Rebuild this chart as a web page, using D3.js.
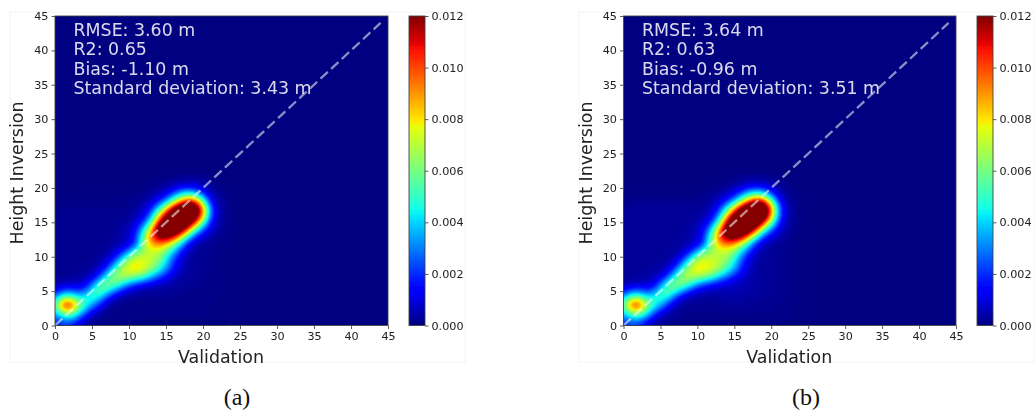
<!DOCTYPE html>
<html><head><meta charset="utf-8">
<script src="https://cdn.jsdelivr.net/npm/d3@7"></script>
<style>
html,body{margin:0;padding:0;background:#fff;overflow:hidden}
svg{display:block}
</style></head><body>
<svg id="c" width="1035" height="410" font-family="DejaVu Sans"></svg>
<script>
const axisTicks = [0,5,10,15,20,25,30,35,40,45];
const colorbarTicks = [0,0.002,0.004,0.006,0.008,0.010,0.012];
const xLabel = "Validation", yLabel = "Height Inversion";
const statsA = ["RMSE: 3.60 m","R2: 0.65","Bias: -1.10 m","Standard deviation: 3.43 m"];
const statsB = ["RMSE: 3.64 m","R2: 0.63","Bias: -0.96 m","Standard deviation: 3.51 m"];
const captionA = "(a)", captionB = "(b)";
const identityLine = [0,44];
// density, units of 1e-4; rows y=0..22, columns x=0..27
const densityA = [
[12,18,14,8,3,2,1,1,1,1,1,1,1,1,1,1,1,1,1,1,1,1,1,0,0,0,0,0],
[20,36,40,28,8,3,2,1,1,1,1,1,1,1,1,1,1,1,1,1,1,1,1,1,0,0,0,0],
[36,62,72,50,32,10,4,2,1,1,1,1,1,1,1,1,1,1,1,1,1,1,1,1,0,0,0,0],
[40,120,130,76,50,38,15,5,2,1,1,1,1,1,1,1,1,1,1,1,1,1,1,1,0,0,0,0],
[30,58,62,48,50,50,45,15,5,3,2,2,2,2,2,2,2,2,1,1,1,1,1,1,1,0,0,0],
[10,24,28,20,22,50,62,48,30,12,6,4,3,3,3,3,3,2,2,2,1,1,1,1,1,0,0,0],
[3,5,6,7,8,25,58,64,60,48,28,18,12,8,6,5,4,3,3,2,2,1,1,1,1,0,0,0],
[2,2,3,4,5,8,20,54,68,68,64,58,48,34,22,12,6,4,3,2,2,2,1,1,1,0,0,0],
[2,2,2,2,3,4,8,22,56,74,80,82,76,60,46,30,15,6,4,3,2,2,1,1,1,0,0,0],
[2,2,2,2,2,3,5,10,28,56,78,82,78,72,60,40,18,7,4,3,2,2,1,1,1,0,0,0],
[2,2,2,2,2,2,3,5,12,30,58,72,74,72,68,48,26,10,4,3,2,2,1,1,1,0,0,0],
[2,2,2,2,2,2,2,3,6,10,24,48,66,74,76,64,42,22,6,3,2,2,1,1,1,0,0,0],
[2,2,2,2,2,2,2,2,4,6,8,16,68,92,96,90,68,40,15,6,3,2,2,1,1,0,0,0],
[2,2,2,2,2,2,2,2,3,5,7,20,58,98,130,134,122,86,44,18,10,4,2,1,1,0,0,0],
[2,2,2,2,2,2,2,2,2,4,6,14,42,80,145,155,150,138,100,46,25,10,4,2,1,0,0,0],
[2,2,2,2,2,2,2,2,2,3,4,9,20,48,110,150,168,165,140,106,52,15,5,2,1,0,0,0],
[2,2,2,2,2,2,2,2,2,2,3,5,10,28,72,124,158,172,168,140,92,22,6,2,1,0,0,0],
[1,2,2,2,2,2,2,2,2,2,2,3,6,15,44,72,126,152,172,150,96,24,6,2,1,0,0,0],
[1,1,1,1,1,1,1,1,1,1,2,2,4,7,18,30,64,88,120,108,58,14,5,2,1,0,0,0],
[0,0,0,1,1,1,1,1,1,1,1,1,2,3,6,12,26,46,54,46,22,7,3,1,1,0,0,0],
[0,0,0,0,0,0,0,0,0,0,0,1,1,2,3,4,8,14,15,14,8,3,2,1,0,0,0,0],
[0,0,0,0,0,0,0,0,0,0,0,0,0,1,1,2,3,3,4,4,3,2,1,0,0,0,0,0],
[0,0,0,0,0,0,0,0,0,0,0,0,0,0,0,0,0,1,1,1,1,1,0,0,0,0,0,0]];
const densityB = [
[13,20,15,8,3,2,2,1,1,1,1,1,1,1,1,1,1,1,1,1,1,1,1,1,0,0,0,0],
[22,38,40,28,9,4,3,2,2,1,1,1,1,1,1,1,1,1,1,1,1,1,1,1,1,0,0,0],
[38,64,70,50,32,12,5,3,2,2,2,2,2,2,2,2,2,2,2,2,2,1,1,1,1,0,0,0],
[44,116,124,74,50,40,16,6,3,2,2,2,2,2,3,3,3,3,2,2,2,2,1,1,1,0,0,0],
[34,62,64,48,50,52,46,16,6,4,3,3,3,4,4,4,4,3,3,3,2,2,2,1,1,0,0,0],
[12,26,29,20,24,50,64,50,32,14,8,6,5,5,6,6,5,5,4,3,3,2,2,1,1,0,0,0],
[3,5,6,7,8,26,58,66,62,52,30,20,14,10,8,7,6,5,4,3,3,2,2,1,1,0,0,0],
[3,3,3,4,5,9,22,56,70,70,66,60,50,36,24,14,8,5,4,3,3,2,2,1,1,0,0,0],
[3,3,3,3,3,5,9,24,58,76,82,80,74,62,48,32,16,7,4,3,3,2,2,1,1,0,0,0],
[3,3,3,3,3,3,5,10,30,62,82,80,76,72,60,42,20,8,4,3,3,2,2,1,1,0,0,0],
[3,3,3,3,3,3,3,5,12,32,64,72,72,70,68,52,28,10,5,3,3,2,2,1,1,0,0,0],
[3,3,3,3,3,3,3,3,6,10,26,52,66,72,76,66,44,24,7,4,3,2,2,1,1,0,0,0],
[3,3,3,3,3,3,3,3,4,6,8,18,68,92,98,94,72,44,17,7,4,3,2,1,1,0,0,0],
[3,3,3,3,3,3,3,3,3,5,7,20,60,102,134,138,126,91,48,20,11,5,3,1,1,0,0,0],
[3,3,3,3,3,3,3,3,3,4,6,14,42,86,150,160,156,144,106,50,27,11,4,2,1,0,0,0],
[3,3,3,3,3,3,3,3,3,3,5,9,20,52,118,156,172,170,146,110,56,17,6,2,1,0,0,0],
[3,3,3,3,3,3,3,3,3,3,3,5,11,30,78,134,166,178,172,146,96,24,7,2,1,0,0,0],
[2,3,3,3,3,3,3,3,3,3,3,3,7,17,48,80,132,160,178,155,100,26,7,2,1,0,0,0],
[1,2,2,2,2,2,2,2,2,2,2,2,5,8,20,34,70,96,128,116,62,16,6,2,1,0,0,0],
[0,1,1,1,1,1,1,1,1,1,1,2,3,4,7,14,28,50,58,50,24,8,3,1,1,0,0,0],
[0,0,0,0,0,0,0,0,0,0,0,1,1,2,3,5,9,15,16,15,9,4,2,1,0,0,0,0],
[0,0,0,0,0,0,0,0,0,0,0,0,0,1,1,2,3,4,4,4,3,2,1,0,0,0,0,0],
[0,0,0,0,0,0,0,0,0,0,0,0,0,0,0,0,1,1,1,1,1,1,0,0,0,0,0,0]];

// matplotlib "jet" break points
const jetT = [0,0.11,0.125,0.34,0.35,0.375,0.64,0.65,0.66,0.89,0.91,1];
const jetR = [0,0,0,0,0,0.0686,0.9,0.968,1,1,0.91,0.5];
const jetG = [0,0,0,0.859,0.9,1,1,0.96,0.92,0.06,0,0];
const jetB = [0.5,1,1,1,0.99,0.92,0.04,0,0,0,0,0];
const ch = a => d3.scaleLinear().domain(jetT).range(a).clamp(true);
const rS = ch(jetR), gS = ch(jetG), bS = ch(jetB);
const vmax = 0.012;
const jet = t => d3.rgb(rS(t)*255, gS(t)*255, bS(t)*255).formatHex();

const svg = d3.select("#c");
const defs = svg.append("defs");
defs.append("filter").attr("id","soft").attr("x","-5%").attr("y","-5%").attr("width","110%").attr("height","110%")
  .append("feGaussianBlur").attr("stdDeviation",0.55);
const grad = defs.append("linearGradient").attr("id","jetbar").attr("x1",0).attr("x2",0).attr("y1",1).attr("y2",0);
d3.range(0,1.0001,0.02).forEach(t=>grad.append("stop").attr("offset",t).attr("stop-color",jet(t)));

function panel(o){
  const gAll = svg.append("g").attr("filter","url(#soft)");
  gAll.append("rect").attr("x",o.frame[0]).attr("y",12).attr("width",o.frame[1]-o.frame[0]).attr("height",350)
    .attr("fill","none").attr("stroke","#f3f3f3");
  const x = d3.scaleLinear().domain([0,45]).range([o.x0,o.x1]);
  const y = d3.scaleLinear().domain([0,45]).range([325.5,16]);
  const cid = "clip"+o.id;
  defs.append("clipPath").attr("id",cid).append("rect")
    .attr("x",o.x0).attr("y",16).attr("width",o.x1-o.x0).attr("height",309.5);
  const g = gAll.append("g");
  const hm = g.append("g").attr("clip-path",`url(#${cid})`);
  hm.append("rect").attr("x",o.x0).attr("y",16).attr("width",o.x1-o.x0).attr("height",309.5).attr("fill",jet(0));

  // resample the coarse grid, then shade with nested iso-bands
  const k = 6, ny = o.density.length, nx = o.density[0].length;
  const W = (nx-1)*k+1, H = (ny-1)*k+1;
  const vals = new Float64Array(W*H);
  for(let j=0;j<H;j++){const fy=j/k,y0=Math.min(Math.floor(fy),ny-2),ty=fy-y0;
    for(let i=0;i<W;i++){const fx=i/k,x0=Math.min(Math.floor(fx),nx-2),tx=fx-x0;
      const d=o.density;
      vals[j*W+i]=(d[y0][x0]*(1-tx)+d[y0][x0+1]*tx)*(1-ty)+(d[y0+1][x0]*(1-tx)+d[y0+1][x0+1]*tx)*ty;}}
  d3.blur2({data:vals,width:W,height:H},3);
  const levels = d3.range(0.25,120.01,0.75);
  const contours = d3.contours().size([W,H]).smooth(true).thresholds(levels)(Array.from(vals));
  const proj = d3.geoTransform({point(px,py){
    this.stream.point(x((px-0.5)/k), y((py-0.5)/k));}});
  const path = d3.geoPath(proj);
  hm.selectAll("path.band").data(contours).join("path").attr("class","band")
    .attr("d",path).attr("fill",d=>jet(d.value/120));

  // identity line
  g.append("line").attr("x1",x(identityLine[0])).attr("y1",y(identityLine[0]))
    .attr("x2",x(identityLine[1])).attr("y2",y(identityLine[1]))
    .attr("stroke","#fff").attr("stroke-opacity",0.55).attr("stroke-width",2.3).attr("stroke-dasharray","10,4.5");

  // stats
  g.append("g").selectAll("text").data(o.stats).join("text")
    .attr("x",x(0)+18.5).attr("y",(d,i)=>36+i*19.3)
    .attr("fill","#fff").attr("fill-opacity",0.85).attr("font-size",17.4).text(d=>d);

  // axes
  const ax = g.append("g").attr("transform","translate(0,325.5)")
    .call(d3.axisBottom(x).tickValues(axisTicks).tickFormat(d3.format("d")).tickSize(3.5).tickPadding(3));
  const ay = g.append("g").attr("transform",`translate(${o.x0},0)`)
    .call(d3.axisLeft(y).tickValues(axisTicks).tickFormat(d3.format("d")).tickSize(3.5).tickPadding(3));
  [ax,ay].forEach(a=>{a.attr("font-family",null);a.selectAll("text").attr("font-size",11.2).attr("fill","#222");
    a.selectAll("line").attr("stroke","#333").attr("stroke-width",0.8);
    a.select(".domain").remove();});
  g.append("rect").attr("x",o.x0).attr("y",16).attr("width",o.x1-o.x0).attr("height",309.5)
    .attr("fill","none").attr("stroke","#444").attr("stroke-width",0.9);
  g.append("text").attr("x",(o.x0+o.x1)/2-0.5).attr("y",363).attr("text-anchor","middle")
    .attr("font-size",17.4).attr("fill","#222").text(xLabel);
  g.append("text").attr("transform",`translate(${o.x0-32},${173}) rotate(-90)`).attr("text-anchor","middle")
    .attr("font-size",17.4).attr("fill","#222").text(yLabel);

  // colour bar
  const cy = d3.scaleLinear().domain([0,vmax]).range([325.5,16]);
  g.append("rect").attr("x",o.cb).attr("y",16).attr("width",16).attr("height",309.5).attr("fill","url(#jetbar)")
    .attr("stroke","#444").attr("stroke-width",0.9);
  const ac = g.append("g").attr("transform",`translate(${o.cb+16},0)`)
    .call(d3.axisRight(cy).tickValues(colorbarTicks).tickFormat(d3.format(".3f")).tickSize(3.5).tickPadding(3));
  ac.attr("font-family",null);
  ac.select(".domain").remove();
  ac.selectAll("text").attr("font-size",11.2).attr("fill","#222");
  ac.selectAll("line").attr("stroke","#333").attr("stroke-width",0.8);

  svg.append("text").attr("x",o.cap).attr("y",405).attr("text-anchor","middle")
    .attr("font-family","Liberation Serif").attr("font-size",24).attr("fill","#111").text(o.caption);
}
panel({id:"a",x0:55,x1:388,cb:409,frame:[10,465],density:densityA,stats:statsA,caption:captionA,cap:237});
panel({id:"b",x0:623.5,x1:956,cb:977,frame:[579,1035],density:densityB,stats:statsB,caption:captionB,cap:806});
</script>
</body></html>
